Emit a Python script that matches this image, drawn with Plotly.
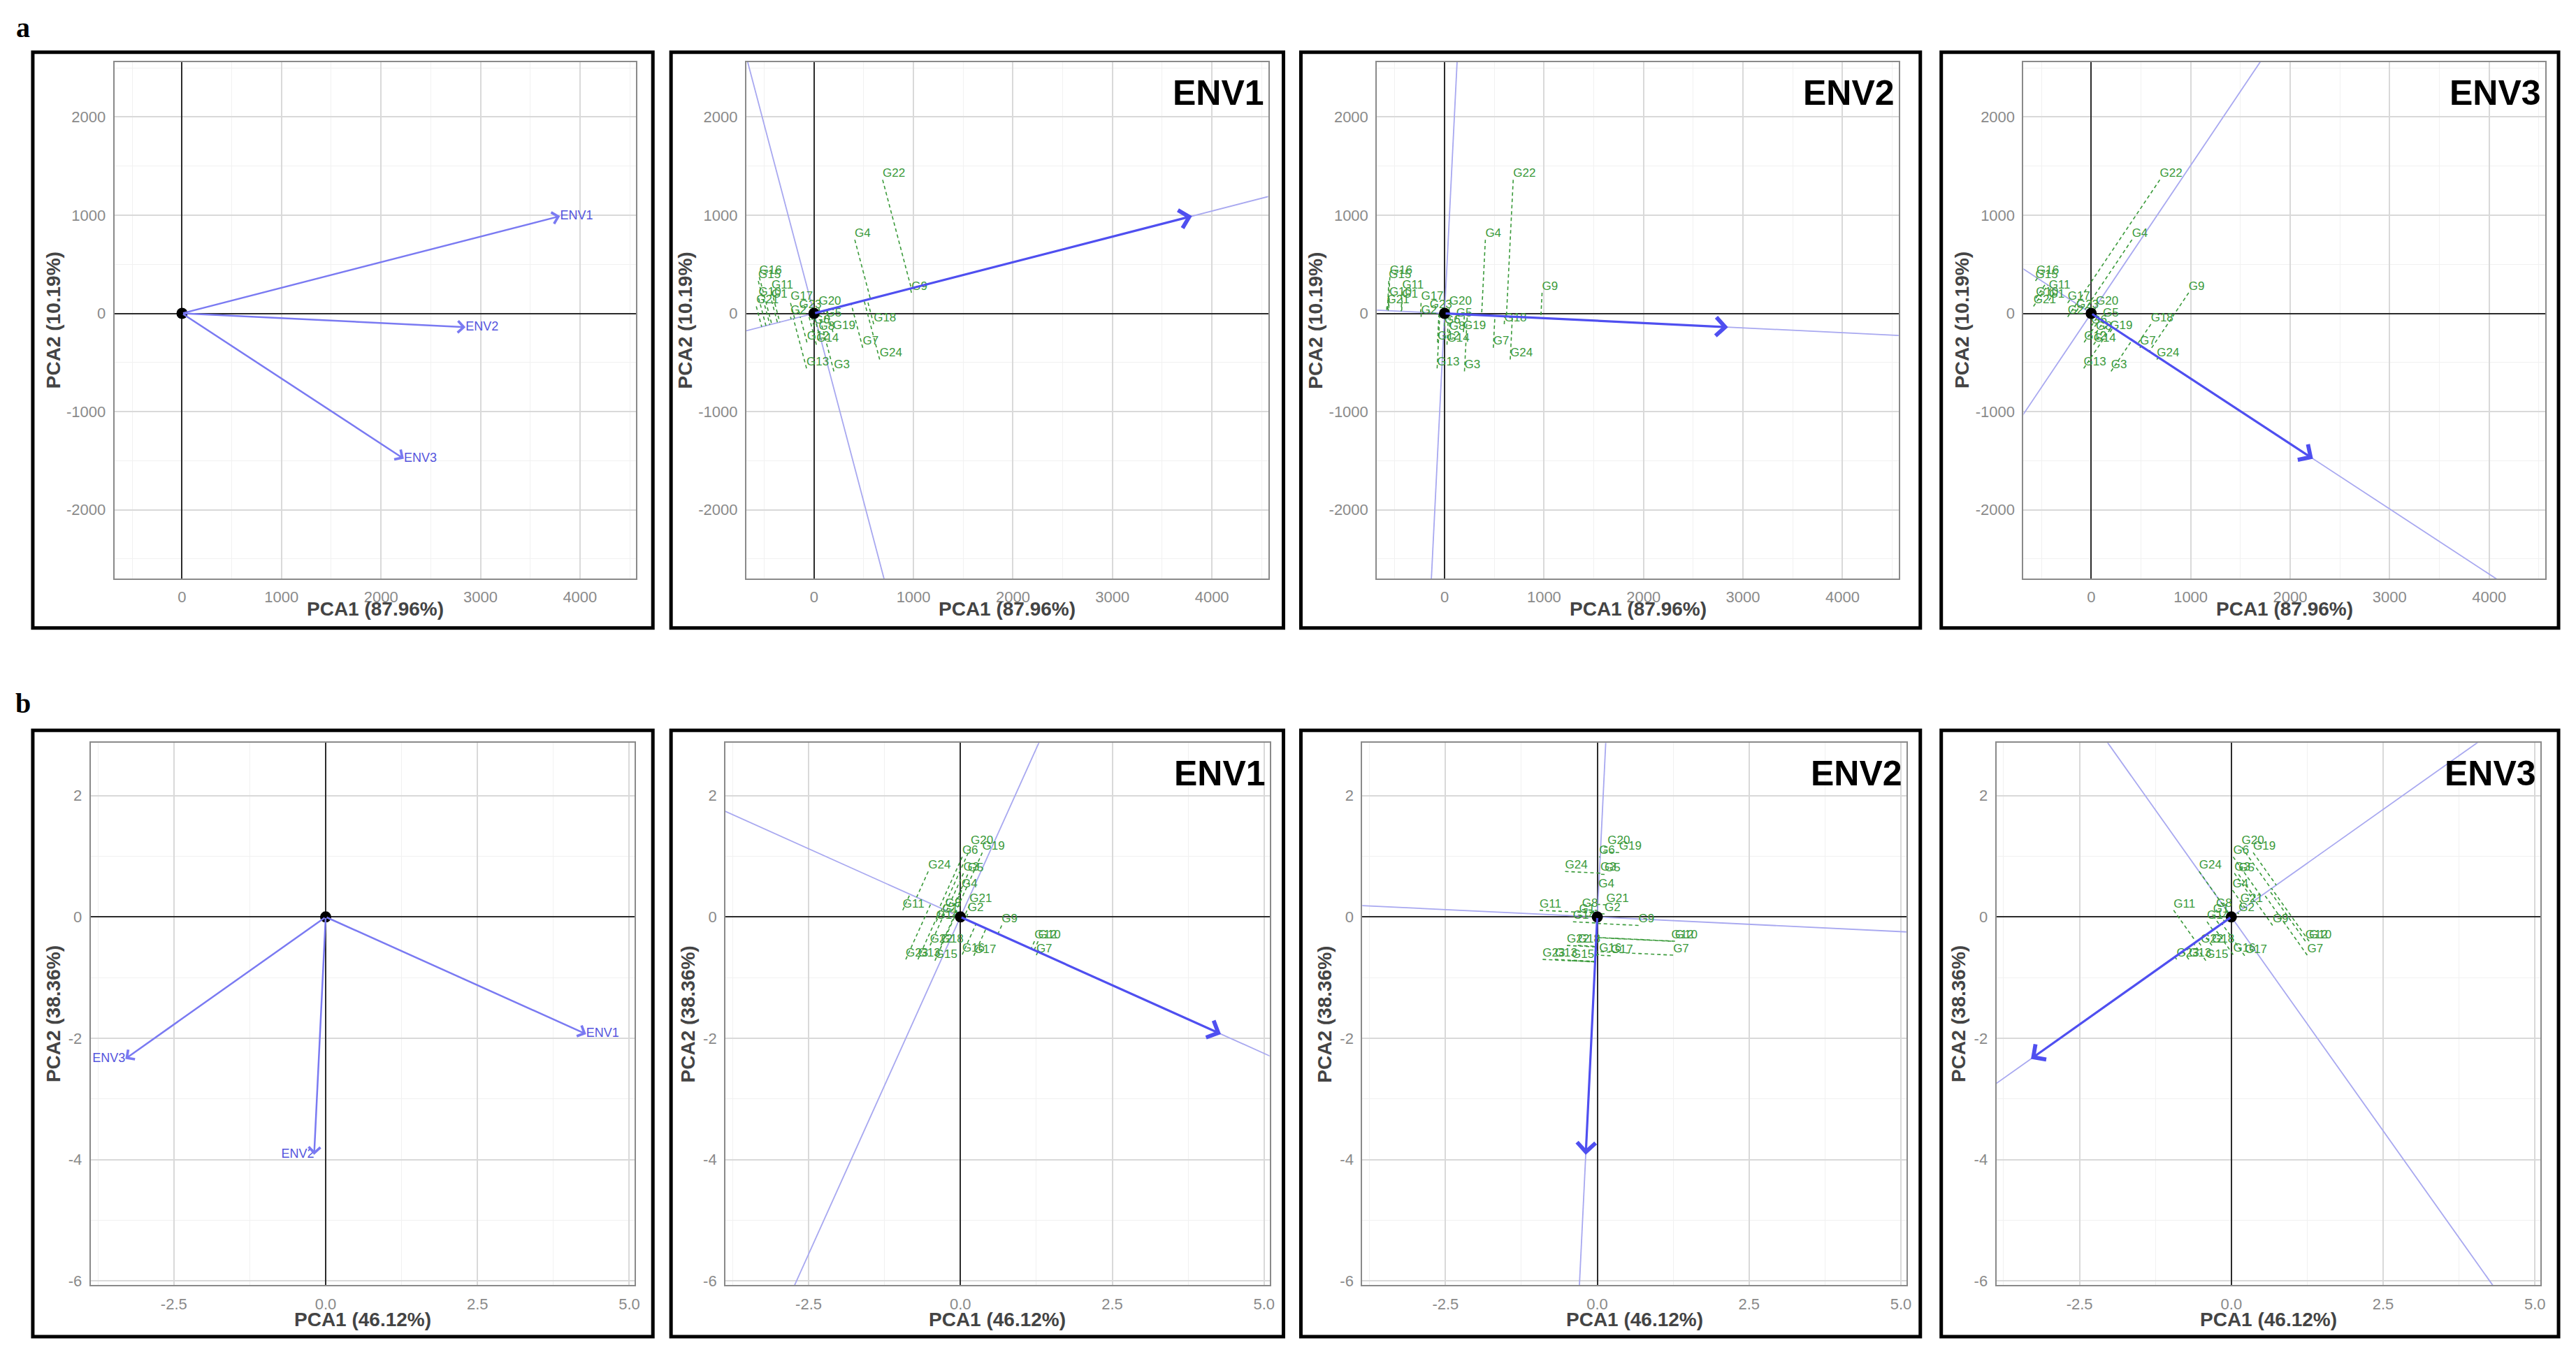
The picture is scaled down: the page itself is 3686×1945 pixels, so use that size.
import numpy as np
import plotly.graph_objects as go

W, H = 3686, 1945

GENOTYPES = [f"G{i}" for i in range(1, 25)]
ENVS = ["ENV1", "ENV2", "ENV3"]

# row a : GGE scores (G1..G24, then ENV1..ENV3)
A_G_PC1 = [-426, -236, 200, 410, 118, 0, 490, 47, 980, -556, -426, -71,
           -75, 24, -560, -550, -236, 600, 190, 47, -580, 690, -150, 660]
A_G_PC2 = [130, -35, -590, 750, -59, -130, -350, -200, 210, 154, 225, -295,
           -560, -319, 330, 370, 106, -110, -190, 59, 71, 1360, 20, -470]
A_E_PC1 = [3800, 2850, 2230]
A_E_PC2 = [990, -140, -1480]

# row b
B_G_PC1 = [-0.30, 0.12, 0.05, 0.02, 0.12, 0.03, 1.25, -0.25, 0.68, 1.28, -0.95, 1.22,
           -0.70, -0.40, -0.42, 0.03, 0.22, -0.32, 0.36, 0.17, 0.15, -0.50, -0.90, -0.53]
B_G_PC2 = [0.02, 0.05, 0.72, 0.44, 0.70, 0.99, -0.63, 0.12, -0.14, -0.40, 0.11, -0.40,
           -0.70, -0.08, -0.72, -0.62, -0.64, -0.47, 1.06, 1.15, 0.20, -0.47, -0.70, 0.75]
B_E_PC1 = [4.29, -0.19, -3.30]
B_E_PC2 = [-1.93, -3.92, -2.34]

A_XTICKS = [0, 1000, 2000, 3000, 4000]
A_YTICKS = [-2000, -1000, 0, 1000, 2000]
B_XTICKS = [-2.5, 0.0, 2.5, 5.0]
B_XTICKTEXT = ["-2.5", "0.0", "2.5", "5.0"]
B_YTICKS = [-6, -4, -2, 0, 2]

A_XTITLE, A_YTITLE = "PCA1 (87.96%)", "PCA2 (10.19%)"
B_XTITLE, B_YTITLE = "PCA1 (46.12%)", "PCA2 (38.36%)"

# pixel layout of the 8 panels
A_PLOTS = [(164, 912), (1070, 1818), (1974, 2722), (2901, 3649)]
B_PLOTS = [(130, 910), (1040, 1820), (1953, 2733), (2862, 3642)]
FRAMES_X = [(47, 936), (962, 1840), (1865, 2753), (2783, 3668)]
A_ROW = (89, 831)
B_ROW = (1067, 1846)
A_FRAME_Y = (75, 902)
B_FRAME_Y = (1049, 1920)

GREEN = "#3a9a3a"
BLUE = "#4f4ff0"
BLUE_SOFT = "#7a7af2"
BLUE_THIN = "#a8a8f0"
SANS = "Liberation Sans, Arial, sans-serif"

fig = go.Figure()


def refs(n):
    return ("x" if n == 1 else f"x{n}"), ("y" if n == 1 else f"y{n}")


def setup_axes(n, xpix, ypix, xr, yr, xt, xtt, yt, xminor, yminor):
    xa = "xaxis" if n == 1 else f"xaxis{n}"
    ya = "yaxis" if n == 1 else f"yaxis{n}"
    xref, yref = refs(n)
    common = dict(
        showgrid=True, gridcolor="#d9d9d9", gridwidth=1.5,
        zeroline=True, zerolinecolor="#2b2b2b", zerolinewidth=1.8,
        showline=True, mirror=True, linecolor="#8a8a8a", linewidth=2,
        ticks="", tickfont=dict(family=SANS, size=22, color="#8a8a8a"),
        ticklabelstandoff=6, fixedrange=True,
    )
    fig.layout[xa] = dict(
        common, domain=[xpix[0] / W, xpix[1] / W], range=xr, anchor=yref,
        tickmode="array", tickvals=xt, ticktext=xtt,
        minor=dict(showgrid=True, gridcolor="#f1f1f1", gridwidth=1, dtick=xminor, tick0=0),
    )
    fig.layout[ya] = dict(
        common, domain=[1 - ypix[1] / H, 1 - ypix[0] / H], range=yr, anchor=xref,
        tickmode="array", tickvals=yt, ticktext=[str(v) for v in yt],
        minor=dict(showgrid=True, gridcolor="#f1f1f1", gridwidth=1, dtick=yminor, tick0=0),
    )


def axis_titles(xpix, ypix, xtitle, ytitle, xgap, ygap):
    f = dict(family=SANS, size=28, color="#444444")
    fig.add_annotation(xref="paper", yref="paper", x=(xpix[0] + xpix[1]) / 2 / W,
                       y=1 - (ypix[1] + xgap) / H, text=f"<b>{xtitle}</b>", showarrow=False,
                       xanchor="center", yanchor="middle", font=f)
    fig.add_annotation(xref="paper", yref="paper", x=(xpix[0] - ygap) / W,
                       y=1 - (ypix[0] + ypix[1]) / 2 / H, text=f"<b>{ytitle}</b>", showarrow=False,
                       textangle=-90, xanchor="center", yanchor="middle", font=f)


def origin_dot(n):
    xref, yref = refs(n)
    fig.add_trace(go.Scatter(x=[0], y=[0], mode="markers", xaxis=xref, yaxis=yref,
                             marker=dict(color="black", size=16), showlegend=False,
                             hoverinfo="skip"))


def overview_panel(n, ex, ey, label_pos):
    xref, yref = refs(n)
    for i in range(len(ex)):
        fig.add_annotation(x=ex[i], y=ey[i], ax=0, ay=0, xref=xref, yref=yref,
                           axref=xref, ayref=yref, text="", showarrow=True,
                           arrowhead=4, arrowsize=1.3, arrowwidth=2.5,
                           arrowcolor=BLUE_SOFT, standoff=0)
    fig.add_trace(go.Scatter(x=ex, y=ey, mode="text", text=ENVS, textposition=label_pos,
                             textfont=dict(family=SANS, size=18, color="#5555dd"),
                             xaxis=xref, yaxis=yref, showlegend=False, hoverinfo="skip"))
    origin_dot(n)


def env_panel(n, gx, gy, ex, ey, k, reach):
    xref, yref = refs(n)
    v = np.array([ex[k], ey[k]], dtype=float)
    u = v / np.linalg.norm(v)
    w = np.array([-u[1], u[0]])
    # environment axis and the line perpendicular to it
    fig.add_trace(go.Scatter(x=[-reach * u[0], reach * u[0], None, -reach * w[0], reach * w[0]],
                             y=[-reach * u[1], reach * u[1], None, -reach * w[1], reach * w[1]],
                             mode="lines", line=dict(color=BLUE_THIN, width=1.8),
                             xaxis=xref, yaxis=yref, showlegend=False, hoverinfo="skip"))
    # projections of genotypes on the environment axis
    px, py = [], []
    for x, y in zip(gx, gy):
        d = x * u[0] + y * u[1]
        px += [x, d * u[0], None]
        py += [y, d * u[1], None]
    fig.add_trace(go.Scatter(x=px, y=py, mode="lines",
                             line=dict(color=GREEN, width=1.6, dash="5px,4px"),
                             xaxis=xref, yaxis=yref, showlegend=False, hoverinfo="skip"))
    fig.add_trace(go.Scatter(x=gx, y=gy, mode="text", text=GENOTYPES, textposition="top right",
                             textfont=dict(family=SANS, size=17, color=GREEN),
                             xaxis=xref, yaxis=yref, showlegend=False, hoverinfo="skip"))
    fig.add_annotation(x=ex[k], y=ey[k], ax=0, ay=0, xref=xref, yref=yref,
                       axref=xref, ayref=yref, text="", showarrow=True,
                       arrowhead=4, arrowsize=1.6, arrowwidth=3.2,
                       arrowcolor=BLUE, standoff=0)
    fig.add_annotation(xref=f"{xref} domain", yref=f"{yref} domain", x=1, y=1,
                       xanchor="right", yanchor="top", xshift=-4, yshift=-14,
                       text=f"<b>{ENVS[k]}</b>", showarrow=False,
                       font=dict(family=SANS, size=50, color="black"))
    origin_dot(n)


A_XR, A_YR = [-680, 4565], [-2700, 2560]
B_XR, B_YR = [-3.87, 5.09], [-6.07, 2.87]

for c in range(4):
    n = c + 1
    setup_axes(n, A_PLOTS[c], A_ROW, A_XR, A_YR, A_XTICKS, [str(v) for v in A_XTICKS],
               A_YTICKS, 500, 500)
    axis_titles(A_PLOTS[c], A_ROW, A_XTITLE, A_YTITLE, 44, 88)
    if c == 0:
        overview_panel(n, A_E_PC1, A_E_PC2, ["middle right", "middle right", "middle right"])
    else:
        env_panel(n, A_G_PC1, A_G_PC2, A_E_PC1, A_E_PC2, c - 1, 20000)

for c in range(4):
    n = c + 5
    setup_axes(n, B_PLOTS[c], B_ROW, B_XR, B_YR, B_XTICKS, B_XTICKTEXT,
               B_YTICKS, 1.25, 1)
    axis_titles(B_PLOTS[c], B_ROW, B_XTITLE, B_YTITLE, 49, 54)
    if c == 0:
        overview_panel(n, B_E_PC1, B_E_PC2, ["middle right", "middle left", "middle left"])
    else:
        env_panel(n, B_G_PC1, B_G_PC2, B_E_PC1, B_E_PC2, c - 1, 40)

# black frames around every panel
for fy in (A_FRAME_Y, B_FRAME_Y):
    for fx in FRAMES_X:
        fig.add_shape(type="rect", xref="paper", yref="paper",
                      x0=fx[0] / W, x1=fx[1] / W, y0=1 - fy[1] / H, y1=1 - fy[0] / H,
                      line=dict(color="black", width=5), fillcolor="rgba(0,0,0,0)")

for lab, py in (("a", 40), ("b", 1010)):
    fig.add_annotation(xref="paper", yref="paper", x=33 / W, y=1 - py / H, text=f"<b>{lab}</b>",
                       showarrow=False, xanchor="center", yanchor="middle",
                       font=dict(family="Liberation Serif, Times New Roman, serif", size=40,
                                 color="black"))

fig.update_layout(
    width=W, height=H,
    margin=dict(l=0, r=0, t=0, b=0),
    plot_bgcolor="white", paper_bgcolor="white",
    showlegend=False,
)

# the page is photographed at exactly W x H, so drop the default body margin
fig.write_html("out.html", config={"displayModeBar": False},
               post_script="document.body.style.margin = '0';")
